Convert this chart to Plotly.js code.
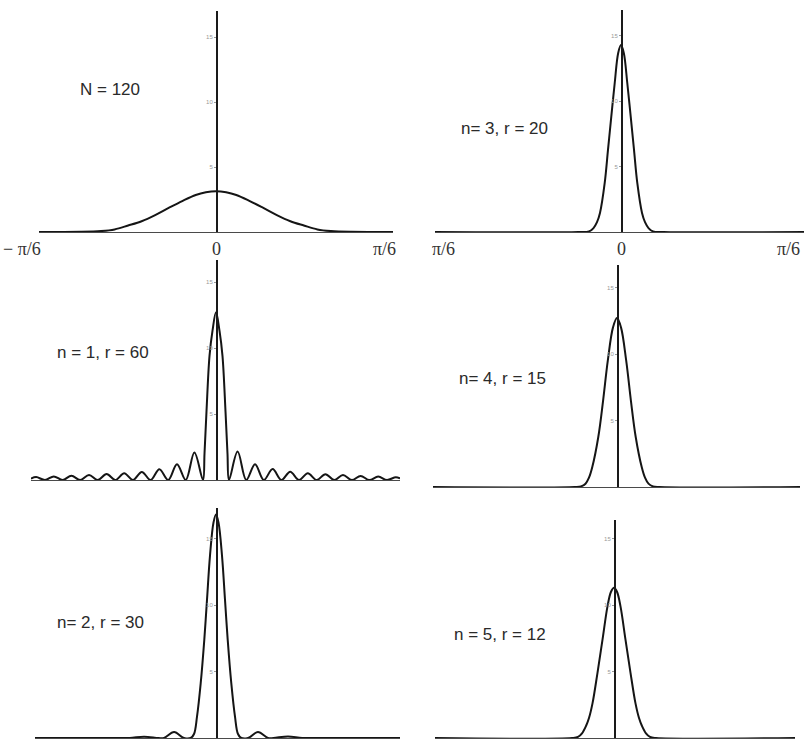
<!DOCTYPE html>
<html>
<head>
<meta charset="utf-8">
<script src="https://cdn.plot.ly/plotly-3.0.1.min.js"></script>
<style>html,body{margin:0;padding:0;background:#fff;}#chart{width:804px;height:739px;}</style>
</head>
<body>
<div id="chart"></div>
<script>
// ---- data (x in radians, y in kernel units) ----
const panelLabels = ["N = 120", "n= 3, r = 20", "n = 1, r = 60", "n= 4, r = 15", "n= 2, r = 30", "n = 5, r = 12"];
const xTickText = ["\u2212 \u03c0/6", "0", "\u03c0/6"];
const xTickTextRight = ["\u03c0/6", "0", "\u03c0/6"];
const yTickVals = [5, 10, 15];
const yTickText = ["5", "10", "15"];

const N120_x = [-0.5236, -0.40, -0.34, -0.30, -0.26, -0.22, -0.18, -0.14, -0.10, -0.06, -0.03, 0, 0.03, 0.06, 0.10, 0.14, 0.18, 0.22, 0.26, 0.30, 0.34, 0.40, 0.5236];
const N120_y = [0, 0.01, 0.07, 0.2, 0.5, 0.83, 1.3, 1.85, 2.38, 2.85, 3.06, 3.14, 3.06, 2.85, 2.38, 1.85, 1.3, 0.83, 0.5, 0.2, 0.07, 0.01, 0];

const n3_x = [-0.524, -0.12, -0.0901, -0.0775, -0.0676, -0.0592, -0.0459, -0.0366, -0.0273, -0.0177, -0.0079, 0, 0.0079, 0.0177, 0.0273, 0.0366, 0.0459, 0.0592, 0.0676, 0.0775, 0.0901, 0.12, 0.5155];
const n3_y = [0, 0, 0.05, 0.3, 0.75, 1.45, 3.75, 6.3, 8.85, 11.4, 13.7, 14.3, 13.7, 11.4, 8.85, 6.3, 3.75, 1.45, 0.75, 0.3, 0.05, 0, 0];

const n1_x = [-0.5473, -0.5320, -0.5059, -0.4799, -0.4538, -0.4278, -0.4018, -0.3757, -0.3497, -0.3237, -0.2976, -0.2716, -0.2456, -0.2195, -0.1935, -0.1675, -0.1414, -0.1154, -0.0896, -0.0639, -0.0385,
  -0.034, -0.0281, -0.0192, -0.0104, 0, 0.0104, 0.0192, 0.0281, 0.034,
  0.0385, 0.0639, 0.0896, 0.1154, 0.1414, 0.1675, 0.1935, 0.2195, 0.2456, 0.2716, 0.2976, 0.3237, 0.3497, 0.3757, 0.4018, 0.4278, 0.4538, 0.4799, 0.5059, 0.5320, 0.5444];
const n1_y = [0.1, 0.22, 0, 0.27, 0, 0.32, 0, 0.38, 0, 0.45, 0, 0.52, 0, 0.61, 0, 0.82, 0, 1.19, 0, 2.08, 0,
  2.0, 5.2, 9.4, 11.3, 12.7, 11.3, 9.4, 5.2, 2.0,
  0, 2.15, 0, 1.19, 0, 0.83, 0, 0.63, 0, 0.52, 0, 0.44, 0, 0.37, 0, 0.31, 0, 0.26, 0, 0.21, 0.12];

const n4_x = [-0.5242, -0.12, -0.1026, -0.0897, -0.0798, -0.0704, -0.0533, -0.0396, -0.0262, -0.0114, 0, 0.0114, 0.0262, 0.0396, 0.0533, 0.0704, 0.0798, 0.0897, 0.1026, 0.12, 0.5214];
const n4_y = [0, 0, 0.05, 0.25, 0.7, 1.5, 3.76, 6.5, 9.5, 12.0, 12.7, 12.0, 9.5, 6.5, 3.76, 1.5, 0.7, 0.25, 0.05, 0, 0];

const n2_x = [-0.5355, -0.30, -0.255, -0.213, -0.17, -0.154, -0.124, -0.095, -0.075, -0.0651, -0.0562, -0.0453, -0.0346, -0.0266, -0.0178, -0.0074, 0,
  0.0074, 0.0178, 0.0266, 0.0346, 0.0453, 0.0562, 0.0651, 0.075, 0.095, 0.124, 0.154, 0.17, 0.213, 0.255, 0.30, 0.5444];
const n2_y = [0, 0, 0, 0.1, 0, 0, 0.45, 0, 0, 0.3, 1.6, 4.1, 7.4, 10.4, 13.7, 16.2, 16.8,
  16.2, 13.7, 10.4, 7.4, 4.1, 1.6, 0.3, 0, 0, 0.45, 0, 0, 0.12, 0, 0, 0];

const n5_x = [-0.5203, -0.122, -0.1047, -0.093, -0.0814, -0.0727, -0.0625, -0.048, -0.0334, -0.0189, -0.0087, 0, 0.0087, 0.0189, 0.0334, 0.048, 0.0625, 0.0727, 0.0814, 0.093, 0.1047, 0.122, 0.5262];
const n5_y = [0, 0, 0.08, 0.35, 0.9, 1.5, 2.6, 4.9, 7.4, 9.9, 11.0, 11.3, 11.0, 9.9, 7.4, 4.9, 2.6, 1.5, 0.9, 0.35, 0.08, 0, 0];

// ---- layout geometry (pixels) ----
const W = 804, H = 739;
const panels = [
  {x: N120_x, y: N120_y, L: 39,  R: 393, c: 216, ppr: 338, base: 232, top: 11,  ppu: 13.0, lab: [110, 90]},
  {x: n3_x,   y: n3_y,   L: 435, R: 804, c: 621, ppr: 355, base: 232, top: 10,  ppu: 13.07, lab: [504, 129]},
  {x: n1_x,   y: n1_y,   L: 31,  R: 400, c: 216, ppr: 338, base: 480, top: 260, ppu: 13.2, lab: [103, 352]},
  {x: n4_x,   y: n4_y,   L: 433, R: 800, c: 617, ppr: 351, base: 487, top: 265, ppu: 13.3, lab: [502, 378]},
  {x: n2_x,   y: n2_y,   L: 35,  R: 400, c: 216, ppr: 338, base: 738, top: 508, ppu: 13.3, lab: [100, 622]},
  {x: n5_x,   y: n5_y,   L: 435, R: 795, c: 614, ppr: 344, base: 738, top: 520, ppu: 13.3, lab: [500, 634]}
];

const traces = [];
const layout = {
  width: W, height: H,
  margin: {l: 0, r: 0, t: 0, b: 0},
  paper_bgcolor: '#ffffff', plot_bgcolor: 'rgba(0,0,0,0)',
  showlegend: false,
  annotations: []
};
const labelFont = {family: 'Liberation Sans, Arial, sans-serif', size: 17, color: '#2a2a2a'};
const tickFont = {family: 'Liberation Serif, Times New Roman, serif', size: 18, color: '#333'};

panels.forEach((p, i) => {
  const k = i === 0 ? '' : String(i + 1);
  traces.push({
    type: 'scatter', mode: 'lines', x: p.x, y: p.y,
    xaxis: 'x' + k, yaxis: 'y' + k,
    line: {color: '#151515', width: 2, shape: 'spline', smoothing: 1},
    hoverinfo: 'skip'
  });
  layout['xaxis' + k] = {
    domain: [p.L / W, p.R / W],
    range: [(p.L - p.c) / p.ppr, (p.R - p.c) / p.ppr],
    anchor: 'y' + k,
    showline: true, linecolor: '#4a4a4a', linewidth: 1,
    showgrid: false, zeroline: false, showticklabels: false, ticks: '',
    fixedrange: true
  };
  layout['yaxis' + k] = {
    domain: [1 - p.base / H, 1 - p.top / H],
    range: [0, (p.base - p.top) / p.ppu],
    anchor: 'free', position: p.c / W,
    showline: true, linecolor: '#1a1a1a', linewidth: 1.6,
    showgrid: false, zeroline: false,
    tickvals: yTickVals, ticktext: yTickText,
    ticks: 'outside', ticklen: 2, tickcolor: '#999', tickwidth: 1,
    tickfont: {family: 'Liberation Sans, Arial, sans-serif', size: 6, color: '#999'},
    fixedrange: true
  };
  layout.annotations.push({
    xref: 'paper', yref: 'paper', x: p.lab[0] / W, y: 1 - p.lab[1] / H,
    xanchor: 'center', yanchor: 'middle', showarrow: false,
    text: panelLabels[i], font: labelFont
  });
});

// x tick labels under the top row
const tickPosLeft = [22, 216, 384];
const tickPosRight = [443, 621, 788];
tickPosLeft.forEach((px, j) => layout.annotations.push({
  xref: 'paper', yref: 'paper', x: px / W, y: 1 - 249 / H, xanchor: 'center', yanchor: 'middle',
  showarrow: false, text: xTickText[j], font: tickFont
}));
tickPosRight.forEach((px, j) => layout.annotations.push({
  xref: 'paper', yref: 'paper', x: px / W, y: 1 - 249 / H, xanchor: 'center', yanchor: 'middle',
  showarrow: false, text: xTickTextRight[j], font: tickFont
}));

Plotly.newPlot('chart', traces, layout, {staticPlot: true, displayModeBar: false});
</script>
</body>
</html>
